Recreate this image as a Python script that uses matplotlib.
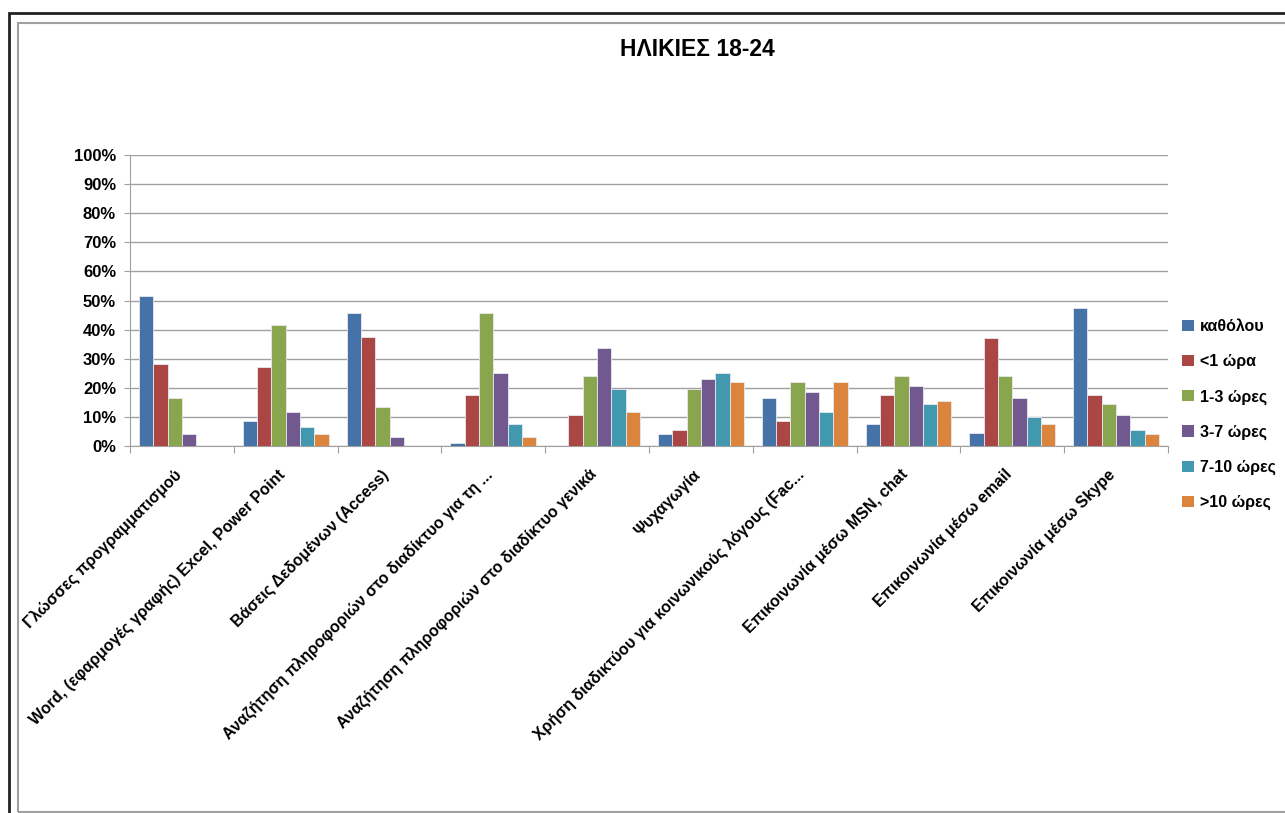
import matplotlib.pyplot as plt
import numpy as np
from matplotlib.patches import Rectangle, Patch

categories = [
    'Γλώσσες προγραμματισμού',
    'Word, (εφαρμογές γραφής) Excel, Power Point',
    'Βάσεις Δεδομένων (Access)',
    'Αναζήτηση πληροφοριών στο διαδίκτυο για τη ...',
    'Αναζήτηση πληροφοριών στο διαδίκτυο γενικά',
    'Ψυχαγωγία',
    'Χρήση διαδικτύου για κοινωνικούς λόγους (Fac...',
    'Επικοινωνία μέσω MSN, chat',
    'Επικοινωνία μέσω email',
    'Επικοινωνία μέσω Skype',
]
series_names = ['καθόλου', '<1 ώρα', '1-3 ώρες', '3-7 ώρες', '7-10 ώρες', '>10 ώρες']
katholou = [51.5, 8.7, 45.7, 0.9, 0.0, 4.0, 16.4, 7.6, 4.4, 47.4]
lt1 = [28.2, 27.2, 37.5, 17.4, 10.7, 5.6, 8.7, 17.4, 37.0, 17.4]
h1_3 = [16.4, 41.7, 13.3, 45.7, 24.1, 19.5, 22.1, 24.1, 24.1, 14.4]
h3_7 = [4.0, 11.7, 3.0, 25.2, 33.8, 23.1, 18.5, 20.5, 16.4, 10.7]
h7_10 = [0.0, 6.6, 0.0, 7.5, 19.5, 25.2, 11.7, 14.4, 9.8, 5.6]
gt10 = [0.0, 4.0, 0.0, 3.0, 11.7, 22.1, 22.1, 15.4, 7.6, 4.0]
series = [katholou, lt1, h1_3, h3_7, h7_10, gt10]
colors = ['#4572A7', '#AA4643', '#89A54E', '#71588F', '#4198AF', '#DB843D']

plt.rcParams['font.family'] = ['Liberation Sans', 'DejaVu Sans']

fig = plt.figure(figsize=(12.85, 8.13), dpi=100)
W, H = 1285, 813

# chart frames
fig.add_artist(Rectangle((8.5 / W, -0.1), 1.2, 1 - 13.5 / H + 0.1, transform=fig.transFigure,
                         fill=False, edgecolor='#222222', linewidth=2))
fig.add_artist(Rectangle((18 / W, 1.5 / H), 1.2, 1 - 23.5 / H - 1.5 / H, transform=fig.transFigure,
                         fill=False, edgecolor='#a0a0a0', linewidth=1.5))

ax = fig.add_axes([130 / W, 1 - 446 / H, (1168 - 130) / W, (446 - 155) / H])

n = len(categories)
x = np.arange(n)
bw = 0.138
offsets = (np.arange(6) - 2.5) * bw
for vals, off, c, name in zip(series, offsets, colors, series_names):
    ax.bar(x + 0.5 + off, np.array(vals) / 100, bw, color=c, edgecolor='#e8e8f0',
           linewidth=0.6, label=name, zorder=3)

ax.set_xlim(0, n)
ax.set_ylim(0, 1)
ax.set_yticks(np.arange(0, 1.01, 0.1))
ax.set_yticklabels([f'{int(v)}%' for v in np.arange(0, 101, 10)], fontsize=12, fontweight='bold')
ax.yaxis.grid(True, color='#a0a0a0', linewidth=1)
ax.set_axisbelow(True)

ax.set_xticks(np.arange(0, n + 1))
ax.set_xticklabels([])
ax.set_xticks(x + 0.42, minor=True)
ax.set_xticklabels(categories, minor=True, rotation=45, ha='right', rotation_mode='anchor',
                   fontsize=11.5, fontweight='bold')
ax.tick_params(axis='x', which='minor', length=0, pad=15)
ax.tick_params(axis='x', which='major', length=5, color='#a0a0a0')
ax.tick_params(axis='y', length=4, color='#a0a0a0', pad=6)

for s in ['top', 'right']:
    ax.spines[s].set_visible(False)
for s in ['left', 'bottom']:
    ax.spines[s].set_color('#a0a0a0')

fig.text(697 / W, 1 - 50 / H, 'ΗΛΙΚΙΕΣ 18-24', ha='center', va='center', fontsize=16.5,
         fontweight='bold')

handles = [Patch(facecolor=c, edgecolor='none') for c in colors]
fig.legend(handles, series_names, loc='upper left', bbox_to_anchor=(1176 / W, 1 - 313 / H),
           frameon=False, prop={'size': 11.5, 'weight': 'bold'}, handlelength=0.7,
           handleheight=0.7, handletextpad=0.4, labelspacing=1.25, borderaxespad=0)

plt.savefig('out.png', dpi=100)
